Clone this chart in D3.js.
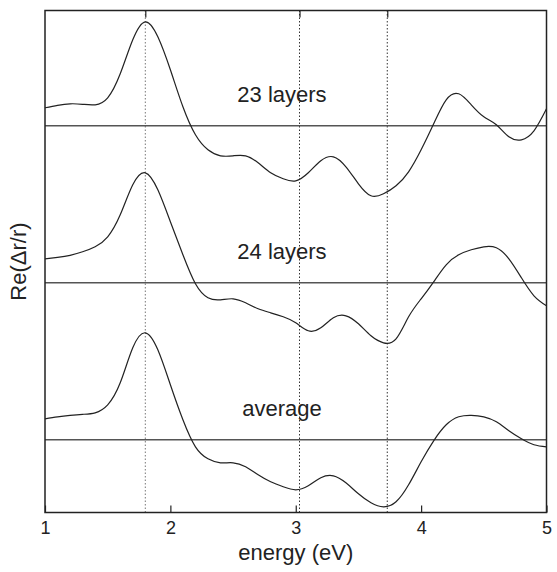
<!DOCTYPE html>
<html>
<head>
<meta charset="utf-8">
<script src="https://cdn.jsdelivr.net/npm/d3@7"></script>
<style>
  body { margin: 0; background: #fff; }
  svg text { font-family: "Liberation Sans", Arial, sans-serif; fill: #222; }
</style>
</head>
<body>
<svg id="chart" width="557" height="572"></svg>
<script>
// photon energy grid (eV)
const energy = [1.0, 1.1, 1.2, 1.3, 1.4, 1.5, 1.6, 1.7, 1.8, 1.9,
                2.0, 2.1, 2.2, 2.3, 2.4, 2.5, 2.6, 2.7, 2.8, 2.9,
                3.0, 3.1, 3.2, 3.3, 3.4, 3.5, 3.6, 3.7, 3.8, 3.9,
                4.0, 4.1, 4.2, 4.3, 4.4, 4.5, 4.6, 4.7, 4.8, 4.9, 5.0];

// Re(dr/r), arbitrary units, each relative to its own zero line
const layers23 = [18, 20.5, 22, 21.5, 21, 28, 52, 86, 104, 89,
                  56, 19, -9, -24, -30, -30, -30, -37, -47, -53,
                  -55, -47, -35, -31, -41, -58, -70, -68, -60, -46,
                  -24, 2, 26, 32, 21, 9, 1, -11, -14, -5, 17];
const layers24 = [24, 25.5, 27.5, 31, 36, 46, 68, 98, 110, 93,
                  61, 28, -1, -15, -17, -16, -20, -26, -30, -34,
                  -40, -48, -45, -35, -33, -41, -53, -60, -56, -34,
                  -16, 1, 18, 28, 33, 36, 35, 24, 5, -13, -23];
const average  = [21, 23, 24.5, 25.5, 27, 35, 57, 92, 107, 90,
                  55, 20, -7, -19, -23, -23, -27, -35, -42, -47,
                  -50, -46, -38, -36, -43, -54, -63, -67, -62, -45,
                  -22, -1, 15, 23, 24.5, 23, 18, 9, 1, -5, -7];

const seriesNames = ['23 layers', '24 layers', 'average'];
const seriesValues = [layers23, layers24, average];
const seriesOffset = [314, 157, 0];

const xTicks = [1, 2, 3, 4, 5];
const markLines = [1.8, 3.03, 3.73];

const margin = {left: 45, right: 10.5, top: 10.5, bottom: 59.5};
const width = 557 - margin.left - margin.right,
      height = 572 - margin.top - margin.bottom;

const x = d3.scaleLinear().domain([1, 5]).range([0, width]);
const y = d3.scaleLinear().domain([-72.7, 429.3]).range([height, 0]);

const svg = d3.select('#chart');
const g = svg.append('g').attr('transform', `translate(${margin.left},${margin.top})`);

// dotted guide lines
g.selectAll('line.mark')
  .data(markLines)
  .enter()
  .append('line')
  .attr('class', 'mark')
  .attr('x1', d => x(d)).attr('x2', d => x(d))
  .attr('y1', 0).attr('y2', height)
  .attr('stroke', (d, i) => i === 0 ? '#777' : '#333')
  .attr('stroke-width', 1)
  .attr('stroke-dasharray', '1.5,2');

// zero lines
g.selectAll('line.zero')
  .data(seriesOffset)
  .enter()
  .append('line')
  .attr('class', 'zero')
  .attr('x1', 0).attr('x2', width)
  .attr('y1', d => y(d)).attr('y2', d => y(d))
  .attr('stroke', '#555')
  .attr('stroke-width', 1.5);

const line = d3.line()
  .x(d => x(d[0]))
  .y(d => y(d[1]))
  .curve(d3.curveNatural);

seriesValues.forEach((vals, i) => {
  g.append('path')
    .datum(energy.map((e, j) => [e, vals[j] + seriesOffset[i]]))
    .attr('d', line)
    .attr('fill', 'none')
    .attr('stroke', '#222')
    .attr('stroke-width', 1.2);
});

// series labels
const labelPos = [{e: 2.89, v: 338}, {e: 2.89, v: 181}, {e: 2.89, v: 24}];
g.selectAll('text.series')
  .data(seriesNames)
  .enter()
  .append('text')
  .attr('class', 'series')
  .attr('x', (d, i) => x(labelPos[i].e))
  .attr('y', (d, i) => y(labelPos[i].v))
  .attr('text-anchor', 'middle')
  .style('font-size', '22px')
  .text(d => d);

// bottom axis, ticks inward
const xAxis = d3.axisBottom(x).tickValues(xTicks).tickFormat(d3.format('d'))
  .tickSizeInner(-7).tickSizeOuter(0).tickPadding(9);
const gx = g.append('g').attr('transform', `translate(0,${height})`).call(xAxis);
gx.select('.domain').remove();
gx.selectAll('line').attr('stroke', '#222').attr('stroke-width', 1.2);
gx.selectAll('text').style('font-size', '18px').attr('fill', '#222');

// top ticks at the marked energies
const topAxis = d3.axisTop(x).tickValues(markLines).tickFormat('')
  .tickSizeInner(-7).tickSizeOuter(0);
const gt = g.append('g').call(topAxis);
gt.select('.domain').remove();
gt.selectAll('line').attr('stroke', '#222').attr('stroke-width', 1.2);

// frame
g.append('rect')
  .attr('width', width).attr('height', height)
  .attr('fill', 'none')
  .attr('stroke', '#222')
  .attr('stroke-width', 1.5);

// axis titles
svg.append('text')
  .attr('x', margin.left + width / 2)
  .attr('y', 560)
  .attr('text-anchor', 'middle')
  .style('font-size', '22px')
  .text('energy (eV)');

svg.append('text')
  .attr('transform', `translate(26,${margin.top + height / 2}) rotate(-90)`)
  .attr('text-anchor', 'middle')
  .style('font-size', '22px')
  .text('Re(\u0394r/r)');
</script>
</body>
</html>
